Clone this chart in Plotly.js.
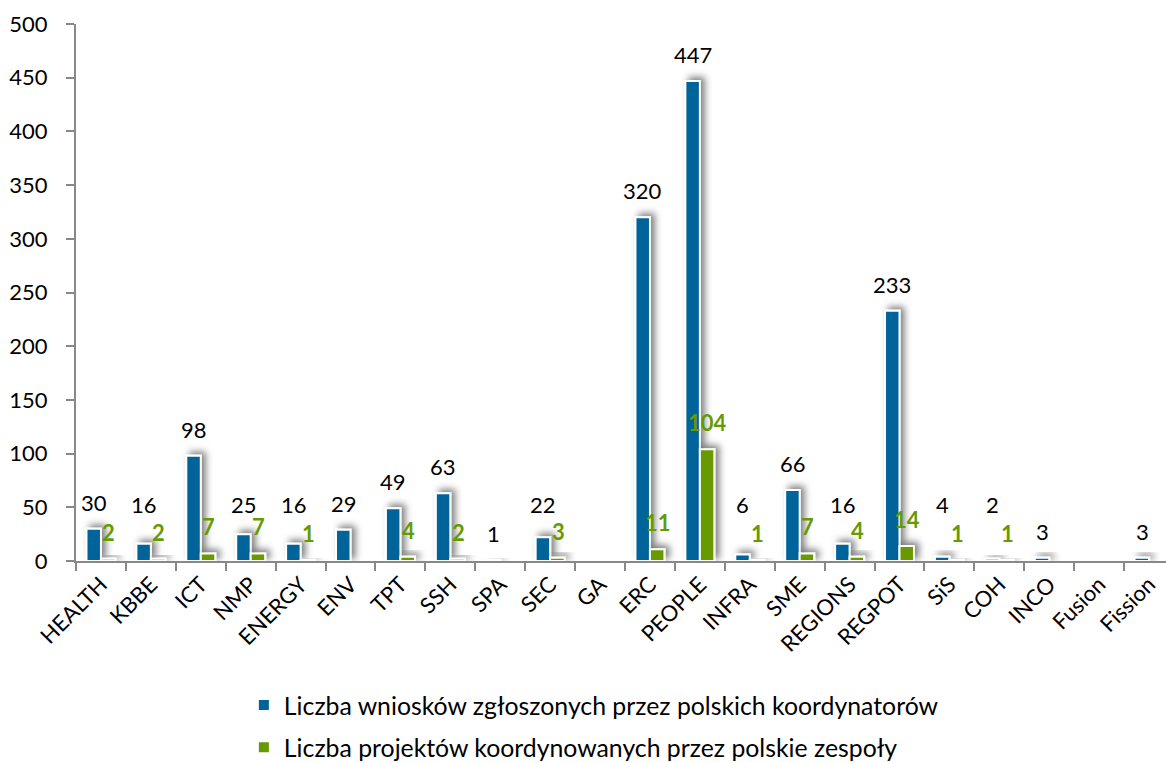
<!DOCTYPE html>
<html>
<head>
<meta charset="utf-8">
<script src="https://cdn.plot.ly/plotly-3.0.1.min.js"></script>
<style>
  html, body { margin: 0; padding: 0; background: #fff; }
  #chart { width: 1166px; height: 763px; }
  .js-plotly-plot .barlayer .point path { filter: url(#barshadow); }
</style>
</head>
<body>
<svg width="0" height="0" style="position:absolute">
  <defs>
    <filter id="barshadow" x="-150%" y="-150%" width="400%" height="400%">
      <feDropShadow dx="4" dy="-3" stdDeviation="3.5" flood-color="#000" flood-opacity="0.5"/>
    </filter>
  </defs>
</svg>
<div id="chart"></div>
<script>
const categories = ["HEALTH","KBBE","ICT","NMP","ENERGY","ENV","TPT","SSH","SPA","SEC","GA","ERC","PEOPLE","INFRA","SME","REGIONS","REGPOT","SiS","COH","INCO","Fusion","Fission"];
const applications = [30,16,98,25,16,29,49,63,1,22,null,320,447,6,66,16,233,4,2,3,null,3];
const projects = [2,2,7,7,1,null,4,2,null,3,null,11,104,1,7,4,14,1,1,null,null,null];
const seriesNames = ["Liczba wniosków zgłoszonych przez polskich koordynatorów","Liczba projektów koordynowanych przez polskie zespoły"];

const BLUE = "#00649a";
const GREEN = "#679a00";
const FONT = "Lato, 'Open Sans', sans-serif";
// blue labels are lifted to clear the green labels next to them
const LABEL_FLOOR = 28;

const traces = [
  {type:"bar", name:seriesNames[0], x:categories, y:applications, legendgroup:"a",
   marker:{color:BLUE, line:{color:"#fff", width:2}}, hoverinfo:"x+y"},
  {type:"bar", name:seriesNames[1], x:categories, y:projects, legendgroup:"b",
   marker:{color:GREEN, line:{color:"#fff", width:2}}, hoverinfo:"x+y"}
];

const annotations = [];
categories.forEach((c, i) => {
  if (applications[i] !== null) {
    const ly = projects[i] !== null ? Math.max(applications[i], LABEL_FLOOR) : applications[i];
    annotations.push({x:c, y:ly, xref:"x", yref:"y", text:String(applications[i]),
      showarrow:false, yanchor:"bottom", yshift:11, xshift:-7,
      font:{family:FONT, size:22, color:"#000"}});
  }
  if (projects[i] !== null) {
    annotations.push({x:c, y:projects[i], xref:"x", yref:"y", text:"<b>"+projects[i]+"</b>",
      showarrow:false, yanchor:"bottom", yshift:11, xshift:8,
      font:{family:FONT, size:22, color:GREEN}});
  }
});

const layout = {
  width:1166, height:763,
  margin:{l:76, r:0, t:24, b:202, autoexpand:false},
  paper_bgcolor:"#fff", plot_bgcolor:"#fff",
  font:{family:FONT, size:22, color:"#000"},
  barmode:"group", bargap:0.42, bargroupgap:0,
  showlegend:true,
  legend:{orientation:"v", x:0.154, xanchor:"left", y:-0.226, yanchor:"top",
          font:{family:FONT, size:24.8, color:"#000"}, tracegroupgap:7, traceorder:"grouped"},
  xaxis:{type:"category", range:[-0.5, 21.34], showline:true, linecolor:"#888", linewidth:2,
         ticks:"outside", ticklen:8, tickwidth:2, tickcolor:"#888", tickson:"boundaries",
         tickangle:-45, tickfont:{family:FONT, size:22, color:"#000"}, showgrid:false, zeroline:false,
         fixedrange:true, automargin:false},
  yaxis:{range:[0,500], dtick:50, showline:true, linecolor:"#888", linewidth:2,
         ticks:"outside", ticklen:8, tickwidth:2, tickcolor:"#888", ticklabelstandoff:14,
         tickfont:{family:FONT, size:22, color:"#000"}, showgrid:false, zeroline:false, fixedrange:true,
         automargin:false},
  annotations:annotations
};

Plotly.newPlot("chart", traces, layout, {displayModeBar:false, staticPlot:true});
</script>
</body>
</html>
